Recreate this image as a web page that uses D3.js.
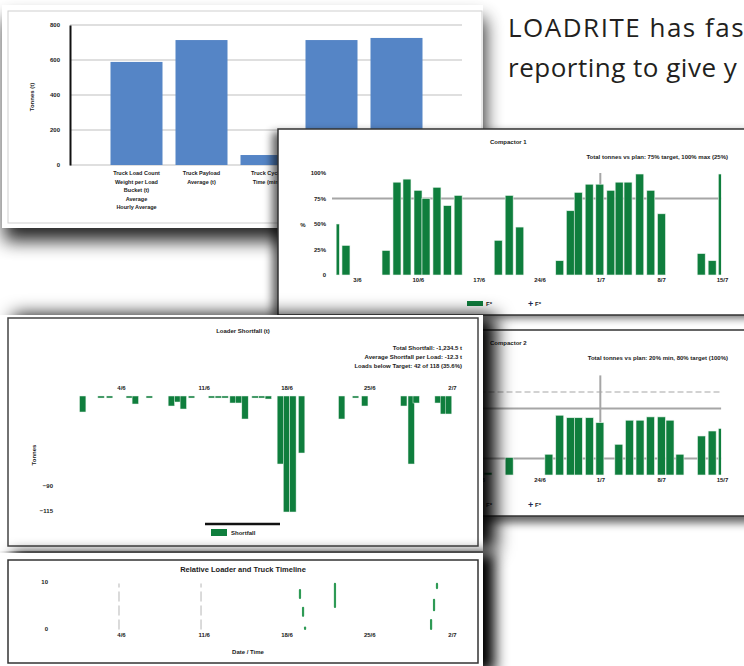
<!DOCTYPE html>
<html>
<head>
<meta charset="utf-8">
<script src="https://cdn.jsdelivr.net/npm/d3@7"></script>
<style>
  body { margin: 0; background: #fff; }
  svg { display: block; }
  .tiny { font-family: "Liberation Sans", Arial, sans-serif; font-size: 6px; font-weight: bold; fill: #1a1a1a; }
  .intro { font-family: "Open Sans", sans-serif; font-size: 26px; fill: #231f20; letter-spacing: 1.5px; }
</style>
</head>
<body>
<div id="chart"></div>
<script>
// ---- summary (blue) chart ----
var summaryCats = ["load", "payload", "cycle", "loader", "total"];
var summaryLabels = [
  ["Truck Load Count", "Weight per Load", "Bucket (t)", "Average", "Hourly Average"],
  ["Truck Payload", "Average (t)"],
  ["Truck Cycle", "Time (min)"],
  [],
  []
];
var summaryValues = [589, 714, 57, 714, 726];
var summaryTicks = [0, 200, 400, 600, 800];

// ---- date axis shared by the two compactor charts ----
var weekDays = [0, 7, 14, 21, 28, 35, 42];
var weekLabels = ["3/6", "10/6", "17/6", "24/6", "1/7", "8/7", "15/7"];

// compactor 1 (% of target)
var compactDays = [-2.49, -1.27, 3.34, 4.6, 5.75, 7.02, 7.94, 9.2, 10.39, 11.64, 16.25, 17.51, 18.73,
  23.33, 24.55, 25.46, 26.72, 27.94, 29.21, 30.17, 31.19, 32.54, 33.81, 35.04, 39.61, 40.87, 42.04];
var compactValues = [50, 29, 24, 91, 94, 83, 75, 86, 68, 78, 34, 78, 47,
  14, 63, 81, 89, 89, 83, 91, 91, 99, 83, 60, 21, 14, 99];

// compactor 2
var compact2Days = [15.07, 17.51, 22.08, 23.33, 24.57, 25.47, 26.75, 27.95, 30.13, 31.36, 32.57,
  33.77, 35.03, 36.02, 37.16, 39.64, 40.87, 42.04];
var compact2Values = [3, 21, 25, 72, 69, 69, 69, 63, 37, 66, 66, 70, 70, 66, 25, 47, 53, 56];

// ---- shortfall chart ----
var shortDays = [-3.24, -1.69, -0.97, 0.7, 1.21, 2.39, 4.26, 4.78, 5.27, 5.96, 7.66, 8.23, 8.8,
  9.48, 9.97, 10.49, 11.34, 11.9, 12.46, 13.48, 14.0, 14.54, 15.28, 18.67, 19.84, 20.62,
  23.92, 24.55, 24.97, 26.82, 27.28, 27.71];
var shortValues = [-16, -2, -2, -2, -8, -2, -10, -6, -13, -2, -2, -2, -2,
  -7, -7, -23, -2, -2, -3, -68, -116, -116, -57, -23, -2, -10,
  -10, -68, -7, -7, -18, -18];
var shortWeekDays = [0, 7, 14, 21, 28];
var shortWeekLabels = ["4/6", "11/6", "18/6", "25/6", "2/7"];

// ---- timeline chart ----
var lineDays = [-0.17, 6.77, 15.14, 15.4, 15.57, 18.1, 26.73, 26.48, 26.23];
var lineFrom = [0, 0, 6.6, 2.8, 0, 4.7, 8.7, 4.0, 0];
var lineTo = [9.6, 9.6, 8.3, 4.5, 0.3, 9.6, 9.6, 6.2, 1.9];
var lineKind = ["plan", "plan", "act", "act", "act", "act", "act", "act", "act"];

var GREEN = "#0f7e3d";

var svg = d3.select("#chart").append("svg").attr("width", 744).attr("height", 666);
var defs = svg.append("defs");
[4, 7, 9].forEach(function(s) {
  defs.append("filter").attr("id", "blur" + s)
    .attr("x", "-30%").attr("y", "-30%").attr("width", "160%").attr("height", "160%")
    .append("feGaussianBlur").attr("stdDeviation", s);
});

function card(x, y, w, h, sh) {
  svg.append("rect").attr("x", x + sh.dx).attr("y", y + sh.dy)
    .attr("width", w).attr("height", h)
    .attr("fill", "#000").attr("opacity", sh.op).attr("filter", "url(#blur" + sh.b + ")");
  svg.append("rect").attr("x", x).attr("y", y).attr("width", w).attr("height", h).attr("fill", "#fff");
  return svg.append("g");
}

function txt(g, x, y, s, anchor) {
  return g.append("text").attr("class", "tiny").attr("x", x).attr("y", y)
    .attr("text-anchor", anchor || "start").text(s);
}

// intro text (runs up to the page edge, as in the screenshot)
svg.append("text").attr("class", "intro").attr("x", 508).attr("y", 37).text("LOADRITE has fas");
svg.append("text").attr("class", "intro").attr("x", 508).attr("y", 77)
  .style("letter-spacing", "0.5px").text("reporting to give y");

// ================= panel 1 : summary bars =================
var g1 = card(2, 5, 481, 223, {dx: 2, dy: 13, op: 0.85, b: 9});
g1.append("rect").attr("x", 8).attr("y", 11).attr("width", 474).attr("height", 212)
  .attr("fill", "none").attr("stroke", "#cfcfcf");

var y1 = d3.scaleLinear().domain([0, 800]).range([165, 25]);
var x1 = d3.scaleBand().domain(summaryCats).range([104, 429]).paddingInner(0.2).paddingOuter(0.1);

g1.selectAll(".grid").data(summaryTicks).enter().append("line")
  .attr("x1", 70).attr("x2", 462)
  .attr("y1", d => y1(d)).attr("y2", d => y1(d))
  .attr("stroke", "#d4d4d4").attr("stroke-width", 1.5);

g1.selectAll(".bar").data(summaryValues).enter().append("rect")
  .attr("x", (d, i) => x1(summaryCats[i]))
  .attr("width", x1.bandwidth())
  .attr("y", d => y1(d))
  .attr("height", d => y1(0) - y1(d))
  .attr("fill", "#5585c6");

var ax1 = g1.append("g").attr("transform", "translate(70,0)")
  .call(d3.axisLeft(y1).tickValues(summaryTicks).tickSize(0).tickPadding(10));
ax1.select(".domain").attr("stroke", "#111").attr("stroke-width", 2);
ax1.selectAll("text").attr("class", "tiny");

g1.append("text").attr("class", "tiny")
  .attr("transform", "translate(34,97) rotate(-90)")
  .attr("text-anchor", "middle").text("Tonnes (t)");

summaryLabels.forEach(function(lines, i) {
  var cx = x1(summaryCats[i]) + x1.bandwidth() / 2;
  lines.forEach(function(s, j) {
    txt(g1, cx, 175 + j * 8.6, s, "middle").style("font-size", "5.5px");
  });
});

// ================= date-bar panels (compactors) =================
var xC = d3.scaleLinear().domain([-2.36, 41.9]).range([336.5, 721.1]);

function compactPanel(o) {
  var g = card(o.x, o.y, 480, 186, o.sh);
  g.append("rect").attr("x", o.x).attr("y", o.y).attr("width", 480).attr("height", 186)
    .attr("fill", "none").attr("stroke", "#333").attr("stroke-width", 1.5);
  var y = o.yScale;
  var clipId = "clip" + o.id;
  defs.append("clipPath").attr("id", clipId).append("rect")
    .attr("x", xC.range()[0]).attr("width", xC.range()[1] - xC.range()[0])
    .attr("y", o.y).attr("height", 186);

  txt(g, 490, o.y + 15, o.title);
  txt(g, 728, o.y + 30, o.subtitle, "end");

  // gridlines and target lines
  o.grid.forEach(function(v) {
    g.append("line").attr("x1", xC.range()[0] - 4.5).attr("x2", xC.range()[1])
      .attr("y1", y(v)).attr("y2", y(v)).attr("stroke", "#a6a6a6").attr("stroke-width", 2);
  });
  o.dashed.forEach(function(v) {
    g.append("line").attr("x1", xC.range()[0] - 10).attr("x2", xC.range()[1])
      .attr("y1", y(v)).attr("y2", y(v)).attr("stroke", "#c4c4c4").attr("stroke-width", 1.5)
      .attr("stroke-dasharray", "6,3");
  });
  g.append("line").attr("x1", xC(28)).attr("x2", xC(28))
    .attr("y1", y(o.markerTop)).attr("y2", y(0))
    .attr("stroke", "#a6a6a6").attr("stroke-width", 2);

  g.append("g").attr("clip-path", "url(#" + clipId + ")")
    .selectAll("rect").data(o.values).enter().append("rect")
    .attr("x", (d, i) => xC(o.days[i]) - 4)
    .attr("width", 8)
    .attr("y", d => y(d))
    .attr("height", d => y(0) - y(d))
    .attr("fill", GREEN).attr("stroke", "#e8f3ec").attr("stroke-width", 0.6);

  var ay = g.append("g").attr("transform", "translate(329,0)")
    .call(d3.axisLeft(y).tickValues(o.ticks).tickSize(0).tickPadding(3)
      .tickFormat(d => d === 0 ? "0" : d + "%"));
  ay.select(".domain").remove();
  ay.selectAll("text").attr("class", "tiny");
  txt(g, 303, y(50) + 3, "%", "middle");

  var ax = g.append("g").attr("transform", "translate(0," + y(0) + ")")
    .call(d3.axisBottom(xC).tickValues(weekDays).tickSize(0).tickPadding(3)
      .tickFormat((d, i) => weekLabels[i]));
  ax.select(".domain").remove();
  ax.selectAll("text").attr("class", "tiny");

  // legend
  var ly = o.y + 175;
  g.append("rect").attr("x", 467).attr("y", ly - 3).attr("width", 16).attr("height", 5).attr("fill", GREEN);
  txt(g, 486, ly + 2, "F*");
  g.append("text").attr("class", "tiny").attr("x", 528).attr("y", ly + 3)
    .style("font-size", "9px").style("fill", "#1c2a5a").text("+");
  txt(g, 535, ly + 2, "F*");
}

compactPanel({
  id: 1, x: 278, y: 129, sh: {dx: -6, dy: 3, op: 0.6, b: 4},
  title: "Compactor 1", subtitle: "Total tonnes vs plan: 75% target, 100% max  (25%)",
  yScale: d3.scaleLinear().domain([0, 100]).range([275, 173]),
  ticks: [0, 25, 50, 75, 100], grid: [75], dashed: [], markerTop: 100,
  days: compactDays, values: compactValues
});

compactPanel({
  id: 2, x: 480, y: 330, sh: {dx: 0, dy: 7, op: 0.6, b: 4},
  title: "Compactor 2", subtitle: "Total tonnes vs plan: 20% min, 80% target  (100%)",
  yScale: d3.scaleLinear().domain([0, 100]).range([475, 392]),
  ticks: [0, 20, 80, 100], grid: [20, 80], dashed: [100], markerTop: 120,
  days: compact2Days, values: compact2Values
});

// ================= panel 3 : shortfall =================
var xS = d3.scaleLinear().domain([0, 28]).range([121, 452]);
var g3 = card(0, 315, 483, 236, {dx: 13, dy: 0, op: 1, b: 9});
g3.append("rect").attr("x", 8).attr("y", 318).attr("width", 470).attr("height", 228)
  .attr("fill", "none").attr("stroke", "#444").attr("stroke-width", 1.5);
var yS = d3.scaleLinear().domain([-120, 0]).range([516, 396]);

txt(g3, 243, 333, "Loader Shortfall (t)", "middle");
txt(g3, 462, 350, "Total Shortfall: -1,234.5 t", "end");
txt(g3, 462, 359, "Average Shortfall per Load: -12.3 t", "end");
txt(g3, 462, 368, "Loads below Target: 42 of 118 (35.6%)", "end");

var axS = g3.append("g").attr("transform", "translate(0,383)")
  .call(d3.axisBottom(xS).tickValues(shortWeekDays).tickSize(0).tickPadding(3)
    .tickFormat((d, i) => shortWeekLabels[i]));
axS.select(".domain").remove();
axS.selectAll("text").attr("class", "tiny");

g3.selectAll(".sbar").data(shortValues).enter().append("rect")
  .attr("x", (d, i) => xS(shortDays[i]) - 3.2)
  .attr("width", 6.4)
  .attr("y", yS(0))
  .attr("height", d => yS(d) - yS(0))
  .attr("fill", GREEN).attr("stroke", "#e8f3ec").attr("stroke-width", 0.5);

var ayS = g3.append("g").attr("transform", "translate(55,0)")
  .call(d3.axisLeft(yS).tickValues([-90, -115]).tickSize(0).tickPadding(2));
ayS.select(".domain").remove();
ayS.selectAll("text").attr("class", "tiny");
g3.append("text").attr("class", "tiny")
  .attr("transform", "translate(36,455) rotate(-90)")
  .attr("text-anchor", "middle").text("Tonnes");

g3.append("line").attr("x1", 205).attr("x2", 280).attr("y1", 524).attr("y2", 524)
  .attr("stroke", "#111").attr("stroke-width", 2.5);
g3.append("rect").attr("x", 211).attr("y", 529).attr("width", 16).attr("height", 7).attr("fill", GREEN);
txt(g3, 231, 535, "Shortfall");

// ================= panel 5 : timeline =================
var g5 = card(0, 553, 483, 120, {dx: 12, dy: 0, op: 1, b: 7});
g5.append("rect").attr("x", 8).attr("y", 560).attr("width", 470).attr("height", 103)
  .attr("fill", "none").attr("stroke", "#333").attr("stroke-width", 1.5);
var yT = d3.scaleLinear().domain([0, 10]).range([629, 582]);

g5.append("text").attr("class", "tiny").attr("x", 243).attr("y", 572)
  .attr("text-anchor", "middle").style("font-size", "7.5px").style("font-weight", "900")
  .text("Relative Loader and Truck Timeline");

var ayT = g5.append("g").attr("transform", "translate(50,0)")
  .call(d3.axisLeft(yT).tickValues([0, 10]).tickSize(0).tickPadding(2));
ayT.select(".domain").remove();
ayT.selectAll("text").attr("class", "tiny");

var axT = g5.append("g").attr("transform", "translate(0,630)")
  .call(d3.axisBottom(xS).tickValues(shortWeekDays).tickSize(0).tickPadding(3)
    .tickFormat((d, i) => shortWeekLabels[i]));
axT.select(".domain").remove();
axT.selectAll("text").attr("class", "tiny");

g5.selectAll(".seg").data(lineDays).enter().append("line")
  .attr("x1", d => xS(d)).attr("x2", d => xS(d))
  .attr("y1", (d, i) => yT(lineFrom[i])).attr("y2", (d, i) => yT(lineTo[i]))
  .attr("stroke", (d, i) => lineKind[i] === "plan" ? "#cfcfcf" : "#2e9a55")
  .attr("stroke-width", (d, i) => lineKind[i] === "plan" ? 1.5 : 2.2)
  .attr("stroke-dasharray", (d, i) => lineKind[i] === "plan" ? "9,5" : null)
  .attr("stroke-linecap", "round");

txt(g5, 248, 654, "Date / Time", "middle");
</script>
</body>
</html>
